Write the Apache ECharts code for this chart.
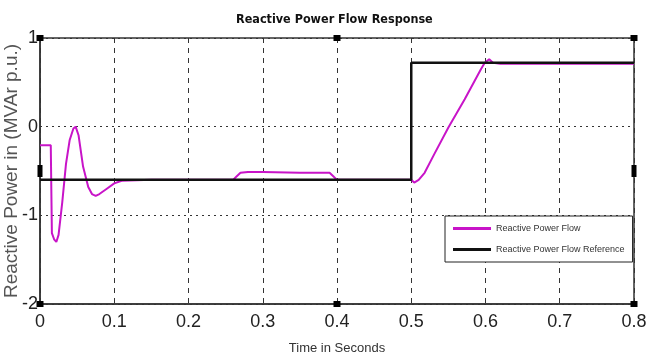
<!DOCTYPE html>
<html>
<head>
<meta charset="utf-8">
<script src="https://cdn.jsdelivr.net/npm/echarts@6/dist/echarts.min.js"></script>
<style>
  html, body { margin: 0; padding: 0; background: #fff; }
  #chart { width: 646px; height: 355px; }
</style>
</head>
<body>
<div id="chart"></div>
<script>
// time (s) and reactive power flow (p.u.)
const flowTime = [0, 0.0145, 0.016, 0.019, 0.022, 0.025, 0.03, 0.035, 0.04, 0.045, 0.048, 0.052, 0.058, 0.065, 0.07, 0.075, 0.08, 0.09, 0.1, 0.11, 0.15, 0.26, 0.265, 0.27, 0.28, 0.3, 0.35, 0.39, 0.395, 0.4, 0.5, 0.504, 0.51, 0.518, 0.531, 0.55, 0.572, 0.594, 0.599, 0.605, 0.61, 0.62, 0.8]
const flowValue = [-0.21, -0.21, -1.2, -1.27, -1.3, -1.22, -0.85, -0.42, -0.15, -0.02, 0, -0.1, -0.45, -0.68, -0.76, -0.78, -0.76, -0.7, -0.64, -0.61, -0.6, -0.6, -0.56, -0.52, -0.51, -0.51, -0.52, -0.52, -0.56, -0.6, -0.6, -0.63, -0.6, -0.52, -0.31, -0.01, 0.31, 0.65, 0.72, 0.76, 0.72, 0.71, 0.71]

const refTime = [0, 0.5, 0.5, 0.8]
const refValue = [-0.6, -0.6, 0.72, 0.72]

const xTicks = [0, 0.1, 0.2, 0.3, 0.4, 0.5, 0.6, 0.7, 0.8]

const zip = (xs, ys) => xs.map((x, i) => [x, ys[i]])

const G = { left: 40, right: 12, top: 38, bottom: 51 }
const W = 646, H = 355

// little black handles round the plot box (as in the screenshot)
const handles = []
const hx = [G.left, (G.left + W - G.right) / 2, W - G.right]
const hy = [G.top, (G.top + H - G.bottom) / 2, H - G.bottom]
hx.forEach((x, i) => hy.forEach((y, j) => {
    if (i === 1 && j === 1) return
    const vert = i !== 1 && j === 1
    handles.push({
        type: 'rect',
        shape: { x: x - (vert ? 2.5 : 3.5), y: y - (vert ? 6 : 3), width: vert ? 5 : 7, height: vert ? 12 : 6 },
        style: { fill: '#000' },
        z: 100
    })
}))

const chart = echarts.init(document.getElementById('chart'))
const tickFont = { fontFamily: 'Liberation Sans, Arial', fontSize: 18, color: '#222' }

chart.setOption({
    animation: false,
    title: {
        text: 'Reactive Power Flow Response',
        left: 231,
        top: 8,
        textStyle: { fontFamily: 'DejaVu Sans Condensed, DejaVu Sans', fontWeight: 'bold', fontSize: 12.5, color: '#111' }
    },
    grid: Object.assign({ outerBoundsMode: 'none', containLabel: false, show: true, borderColor: '#333', borderWidth: 1.5 }, G),
    legend: {
        orient: 'vertical',
        left: 445,
        top: 216,
        padding: [8, 8, 8, 8],
        itemGap: 12,
        itemWidth: 38,
        itemHeight: 3,
        icon: 'rect',
        borderColor: '#222',
        borderWidth: 1,
        backgroundColor: '#fff',
        textStyle: { fontFamily: 'Liberation Sans', fontSize: 9, color: '#333' },
        data: ['Reactive Power Flow', 'Reactive Power Flow Reference']
    },
    xAxis: {
        type: 'value',
        min: 0,
        max: 0.8,
        interval: 0.1,
        name: 'Time in Seconds',
        nameLocation: 'middle',
        nameGap: 38,
        nameMoveOverlap: false,
        nameTextStyle: { fontFamily: 'Liberation Sans', fontSize: 13, color: '#333' },
        axisLine: { onZero: false, lineStyle: { color: '#333', width: 1.5 } },
        axisTick: { show: false },
        axisLabel: Object.assign({ margin: 9, formatter: v => xTicks.includes(Math.round(v * 10) / 10) ? String(Math.round(v * 10) / 10) : '' }, tickFont),
        splitLine: { lineStyle: { color: '#333', type: [5, 5], width: 1 } }
    },
    yAxis: {
        type: 'value',
        min: -2,
        max: 1,
        interval: 1,
        name: 'Reactive Power in (MVAr p.u.)',
        nameLocation: 'middle',
        nameGap: 19,
        nameMoveOverlap: false,
        nameTextStyle: { fontFamily: 'Liberation Sans', fontSize: 19, color: '#555' },
        axisLine: { onZero: false, lineStyle: { color: '#333', width: 1.5 } },
        axisTick: { show: false },
        axisLabel: Object.assign({ margin: 2 }, tickFont),
        splitLine: { lineStyle: { color: '#333', type: [2, 4], width: 1 } }
    },
    graphic: handles,
    series: [
        {
            name: 'Reactive Power Flow',
            type: 'line',
            symbol: 'none',
            color: '#c814c8',
            lineStyle: { width: 2, color: '#c814c8' },
            data: zip(flowTime, flowValue),
            z: 2
        },
        {
            name: 'Reactive Power Flow Reference',
            type: 'line',
            symbol: 'none',
            color: '#111',
            lineStyle: { width: 2.5, color: '#111' },
            data: zip(refTime, refValue),
            z: 3
        }
    ]
})
</script>
</body>
</html>
